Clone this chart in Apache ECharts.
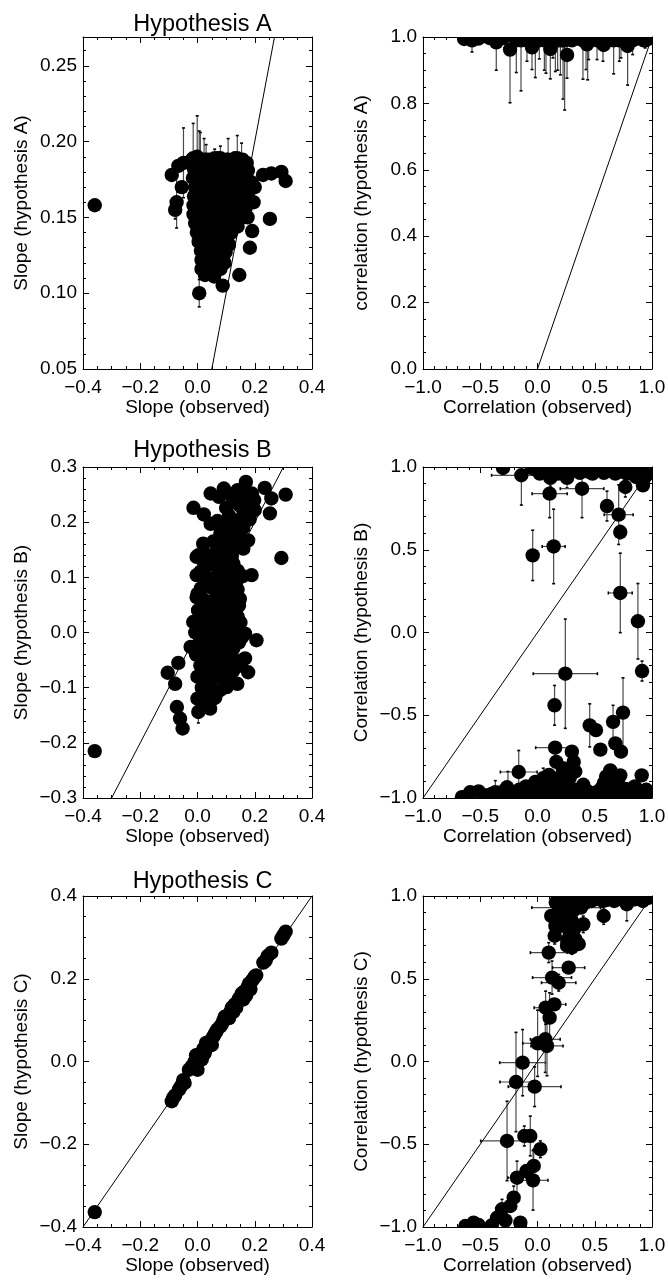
<!DOCTYPE html>
<html><head><meta charset="utf-8">
<script src="https://cdn.jsdelivr.net/npm/echarts@6/dist/echarts.min.js"></script>
<style>html,body{margin:0;padding:0;background:#fff}#c{width:668px;height:1280px}</style>
</head><body><div id="c"></div>
<script>
// ---------- DATA: each entry [x, y, xErr, yErr] ----------
const slopeA = [
[-0.359,0.158,0,0],[0.308,0.174,0,0],[0.293,0.180,0,0],[0.258,0.179,0,0],[0.229,0.178,0,0],[0.253,0.149,0,0],[0.191,0.141,0,0],[0.183,0.130,0,0],[0.146,0.112,0,0],[0.088,0.105,0,0],[0.006,0.100,0,0.009],
[-0.090,0.178,0,0],[-0.067,0.184,0,0],[-0.055,0.170,0,0],[-0.073,0.160,0,0.017],[-0.078,0.155,0,0.006],[0.200,0.170,0,0],[0.196,0.160,0,0],[0.175,0.150,0,0],
[-0.049,0.186,0,0.023],[-0.015,0.189,0,0.023],[-0.001,0.190,0,0.027],[0.006,0.188,0,0.019],[0.010,0.187,0,0.019],[0.023,0.188,0,0.014],[0.107,0.188,0,0.014],[0.139,0.189,0,0.015],[0.154,0.187,0,0.012],[0.030,0.188,0,0.010],[0.060,0.189,0,0.006],[0.080,0.189,0,0.008],
[-0.020,0.188,0,0],[0.040,0.188,0,0],[0.071,0.189,0,0],[0.101,0.188,0,0],[0.131,0.189,0,0],[0.158,0.188,0,0],[0.172,0.186,0,0],
[-0.012,0.182,0,0],[0.020,0.183,0,0],[0.054,0.182,0,0],[0.086,0.183,0,0],[0.118,0.182,0,0],[0.150,0.183,0,0],[0.176,0.181,0,0],
[-0.016,0.176,0,0],[0.014,0.177,0,0],[0.046,0.175,0,0],[0.079,0.176,0,0],[0.111,0.177,0,0],[0.143,0.175,0,0],[0.172,0.176,0,0],[0.190,0.173,0,0],
[-0.008,0.170,0,0],[0.025,0.169,0,0],[0.058,0.170,0,0],[0.092,0.171,0,0],[0.124,0.169,0,0],[0.156,0.170,0,0],[0.182,0.168,0,0],
[-0.012,0.164,0,0],[0.019,0.165,0,0],[0.052,0.163,0,0],[0.085,0.164,0,0],[0.117,0.165,0,0],[0.149,0.163,0,0],[0.176,0.162,0,0],
[-0.014,0.158,0,0],[0.017,0.157,0,0],[0.049,0.158,0,0],[0.082,0.157,0,0],[0.114,0.158,0,0],[0.145,0.157,0,0],[0.168,0.156,0,0],
[-0.014,0.152,0,0],[0.016,0.151,0,0],[0.047,0.152,0,0],[0.079,0.151,0,0],[0.111,0.152,0,0],[0.140,0.151,0,0],[0.153,0.150,0,0],
[-0.008,0.146,0,0],[0.022,0.145,0,0],[0.054,0.146,0,0],[0.086,0.145,0,0],[0.116,0.146,0,0],[0.140,0.144,0,0],
[-0.002,0.140,0,0],[0.028,0.139,0,0],[0.060,0.140,0,0],[0.091,0.139,0,0],[0.118,0.140,0,0],
[0.004,0.134,0,0],[0.034,0.133,0,0],[0.065,0.134,0,0],[0.095,0.133,0,0],[0.110,0.132,0,0],
[0.012,0.128,0,0],[0.041,0.127,0,0],[0.071,0.128,0,0],[0.098,0.127,0,0],
[0.014,0.122,0,0],[0.044,0.121,0,0],[0.073,0.122,0,0],[0.094,0.120,0,0],
[0.014,0.116,0,0],[0.046,0.115,0,0],[0.080,0.116,0,0],
[0.026,0.112,0,0],[0.058,0.111,0,0]
];
const corrA = [
[-0.640,0.994,0,0],[-0.572,0.990,0,0.035],[-0.517,0.995,0,0],
[-0.420,0.997,0,0],[-0.360,0.984,0,0.084],[-0.300,0.997,0,0],[-0.240,0.962,0,0.160],[-0.185,0.990,0,0.097],[-0.144,0.990,0,0.152],[-0.100,0.997,0,0],[-0.092,0.990,0,0.063],[-0.048,0.969,0,0.067],[-0.019,0.990,0,0.112],[0.016,0.990,0,0.056],[0.040,0.997,0,0],[0.060,0.990,0,0.090],[0.074,0.990,0,0.099],[0.112,0.964,0,0.090],[0.135,0.990,0,0.053],[0.156,0.990,0,0.094],[0.176,0.990,0,0.090],[0.200,0.990,0,0.104],[0.223,0.990,0,0.177],[0.237,0.990,0,0.210],[0.258,0.946,0,0.070],[0.300,0.990,0,0],[0.310,0.997,0,0],[0.360,0.995,0,0],[0.397,0.990,0,0.117],[0.424,0.990,0,0.088],[0.432,0.978,0,0],[0.438,0.990,0,0.119],[0.447,0.990,0,0.058],[0.480,0.997,0,0],[0.520,0.990,0,0.058],[0.572,0.990,0,0.063],[0.578,0.976,0,0],[0.630,0.997,0,0],[0.665,0.990,0,0.101],[0.690,0.996,0,0],[0.715,0.990,0,0.063],[0.729,0.990,0,0.053],[0.760,0.997,0,0],[0.787,0.973,0,0.118],[0.831,0.990,0,0.043],[0.870,0.996,0,0],[0.927,0.990,0,0],[0.940,0.990,0,0.023],[0.975,0.996,0,0],[1.000,0.998,0,0]
];
const slopeB = [
[-0.359,-0.215,0,0],[0.293,0.135,0,0],[0.206,-0.014,0,0],[0.166,-0.002,0,0],[0.166,-0.047,0,0],[0.177,-0.072,0,0],[0.139,-0.093,0,0],
[-0.052,-0.174,0,0],[-0.061,-0.156,0,0],[-0.072,-0.135,0,0],[-0.078,-0.093,0.012,0],[-0.104,-0.073,0,0],[-0.067,-0.055,0,0],
[0.003,-0.144,0,0.02],[0.044,-0.138,0,0],[0.055,-0.120,0,0],[0.102,-0.099,0,0],[0.131,-0.050,0,0],[0.113,-0.062,0,0],
[0.125,0.125,0,0],[0.189,0.104,0,0],[0.148,0.061,0,0],[-0.003,0.104,0,0],[0.003,0.140,0,0],[-0.003,0.064,0,0],[-0.015,0.019,0,0],[-0.024,-0.026,0,0],
[-0.014,0.226,0,0],[0.046,0.252,0,0],[0.092,0.261,0,0],[0.169,0.273,0,0],[0.235,0.262,0,0],[0.308,0.250,0,0],[0.258,0.243,0,0],[0.253,0.216,0,0],[0.177,0.234,0,0],[0.113,0.194,0,0],[0.046,0.197,0,0],[0.177,0.167,0,0],[0.160,0.152,0,0],[0.020,0.161,0,0],[0.055,0.165,0,0],[-0.003,0.137,0,0],[0.148,0.230,0,0],[0.125,0.236,0,0],[0.198,0.240,0,0],[0.150,0.205,0,0],[0.182,0.205,0,0],[0.022,0.214,0,0],[0.100,0.226,0,0],[0.075,0.246,0,0],[0.140,0.258,0,0],
[0.030,0.120,0,0],[0.070,0.118,0,0],[0.100,0.121,0,0],
[0.020,0.100,0,0],[0.052,0.098,0,0],[0.088,0.101,0,0],[0.120,0.099,0,0],[0.158,0.102,0,0],
[0.012,0.080,0,0],[0.046,0.082,0,0],[0.080,0.079,0,0],[0.112,0.081,0,0],[0.140,0.078,0,0],
[0.020,0.060,0,0],[0.055,0.058,0,0],[0.090,0.061,0,0],[0.122,0.059,0,0],
[0.002,0.040,0,0],[0.035,0.041,0,0],[0.070,0.039,0,0],[0.105,0.042,0,0],[0.132,0.038,0,0],
[0.015,0.020,0,0],[0.050,0.021,0,0],[0.085,0.019,0,0],[0.120,0.022,0,0],[0.150,0.018,0,0],
[-0.008,0.000,0,0],[0.025,0.001,0,0],[0.060,-0.001,0,0],[0.095,0.002,0,0],[0.130,-0.002,0,0],
[0.005,-0.020,0,0],[0.040,-0.021,0,0],[0.075,-0.019,0,0],[0.110,-0.022,0,0],[0.145,-0.018,0,0],
[-0.005,-0.040,0,0],[0.030,-0.041,0,0],[0.065,-0.039,0,0],[0.100,-0.042,0,0],
[0.010,-0.060,0,0],[0.045,-0.061,0,0],[0.080,-0.059,0,0],[0.115,-0.075,0,0],
[0.000,-0.080,0,0],[0.035,-0.081,0,0],[0.070,-0.079,0,0],[0.095,-0.082,0,0],
[0.015,-0.100,0,0],[0.050,-0.101,0,0],[0.080,-0.104,0,0],
[0.000,-0.120,0,0],[0.030,-0.121,0,0],[0.062,-0.118,0,0],
[0.040,0.140,0,0],[0.080,0.141,0,0],[0.120,0.139,0,0],
[0.090,0.160,0,0],[0.130,0.158,0,0],
[0.080,0.180,0,0],[0.120,0.181,0,0],[0.140,0.178,0,0],
[0.070,0.202,0,0],[0.090,0.199,0,0],[0.130,0.203,0,0],
[0.010,0.110,0,0],[0.085,0.111,0,0],[0.140,0.112,0,0],
[0.030,0.090,0,0],[0.065,0.089,0,0],[0.135,0.091,0,0],
[0.000,0.070,0,0],[0.070,0.071,0,0],[0.105,0.069,0,0],
[0.015,0.050,0,0],[0.085,0.051,0,0],[0.145,0.049,0,0],
[0.030,0.030,0,0],[0.100,0.031,0,0],[0.140,0.029,0,0],
[0.005,0.010,0,0],[0.075,0.011,0,0],[0.110,0.009,0,0],
[0.045,-0.010,0,0],[0.115,-0.011,0,0],[0.155,-0.009,0,0],
[0.015,-0.030,0,0],[0.085,-0.031,0,0],[0.125,-0.029,0,0],
[0.030,-0.050,0,0],[0.095,-0.051,0,0],[0.150,-0.060,0,0],
[0.020,-0.070,0,0],[0.055,-0.071,0,0],[0.125,-0.069,0,0],
[0.045,-0.090,0,0],[0.110,-0.088,0,0],
[0.035,-0.110,0,0],[0.065,-0.109,0,0],
[0.020,-0.132,0,0],
[0.020,0.130,0,0],[0.060,0.131,0,0],[0.100,0.129,0,0],
[0.070,0.151,0,0],[0.110,0.149,0,0],
[0.100,0.171,0,0],[0.150,0.170,0,0],
[0.100,0.190,0,0],[0.160,0.190,0,0],
[0.110,0.212,0,0],[0.160,0.222,0,0],[0.200,0.222,0,0],
[0.160,0.250,0,0],[0.190,0.252,0,0],[0.115,0.250,0,0]
];
const corrB = [
[-0.301,0.994,0,0],[-0.141,0.950,0.26,0.18],[0.112,0.934,0,0.05],[0.106,0.839,0.153,0.145],[0.141,0.520,0.10,0.225],[-0.042,0.466,0,0.152],
[0.258,0.934,0,0.06],[0.389,0.869,0.19,0.175],[0.607,0.764,0,0.09],[0.709,0.712,0.126,0.18],[0.723,0.607,0,0.04],[0.767,0.879,0,0.06],[0.921,0.889,0,0],
[-0.020,0.985,0,0],[0.030,0.997,0,0],[0.080,0.990,0,0],[0.160,0.985,0,0],[0.200,0.970,0,0],[0.230,0.995,0,0],[0.300,0.975,0,0],[0.340,0.990,0,0],[0.400,0.995,0,0],[0.450,0.970,0,0],[0.500,0.992,0,0],[0.550,0.980,0,0],[0.600,0.995,0,0],[0.650,0.975,0,0],[0.700,0.990,0,0],[0.750,0.970,0,0],[0.800,0.995,0,0],[0.850,0.975,0,0],[0.900,0.990,0,0],[0.950,0.970,0,0],[0.990,0.995,0,0],[0.930,0.930,0,0],[0.860,0.940,0,0],
[-0.050,0.995,0,0],[0.020,0.960,0,0],[0.060,0.975,0,0],[0.120,0.995,0,0],[0.180,0.960,0,0],[0.260,0.985,0,0],[0.320,0.995,0,0],[0.370,0.965,0,0],[0.430,0.990,0,0],[0.480,0.960,0,0],[0.530,0.995,0,0],[0.580,0.965,0,0],[0.630,0.990,0,0],[0.680,0.960,0,0],[0.730,0.995,0,0],[0.780,0.960,0,0],[0.830,0.990,0,0],[0.880,0.960,0,0],[0.970,0.960,0,0],[1.000,0.990,0,0],
[0.723,0.239,0.104,0.24],[0.877,0.068,0,0.228],[0.913,-0.233,0,0.06],[0.243,-0.249,0.28,0.33],[0.149,-0.440,0,0.12],[0.154,-0.696,0.17,0],[-0.164,-0.843,0.16,0.13],[-0.019,-0.903,0,0],
[0.316,-0.782,0,0.08],[0.330,-0.840,0,0],[0.164,-0.782,0,0],[0.456,-0.561,0,0.13],[0.511,-0.590,0,0],[0.549,-0.708,0,0],[0.660,-0.540,0,0.10],[0.680,-0.670,0,0],[0.729,-0.720,0,0],[0.747,-0.484,0.05,0.21],[0.636,-0.833,0,0],[0.723,-0.863,0,0],[0.910,-0.863,0,0.03],
[-0.660,-0.995,0,0],[-0.587,-0.965,0,0],[-0.514,-0.960,0,0],[-0.368,-0.965,0,0.07],[-0.266,-0.935,0,0],[-0.258,-0.960,0,0.12],[-0.200,-0.980,0,0],[-0.120,-0.970,0,0],[-0.050,-0.950,0,0],[0.020,-0.970,0,0],[0.050,-0.950,0,0.13],[0.080,-0.940,0,0],[0.140,-0.960,0,0],[0.200,-0.930,0,0],[0.260,-0.970,0,0],[0.320,-0.950,0,0],[0.380,-0.980,0,0],[0.440,-0.960,0,0],[0.500,-0.970,0,0],[0.560,-0.940,0,0],[0.620,-0.975,0,0],[0.680,-0.950,0,0],[0.740,-0.970,0,0],[0.800,-0.960,0,0],[0.860,-0.980,0,0],[0.920,-0.965,0,0],[0.970,-0.990,0,0],[0.180,-0.880,0,0],[0.050,-0.880,0,0],
[-0.620,-0.990,0,0],[-0.450,-0.985,0,0],[-0.400,-0.975,0,0],[-0.330,-0.990,0,0],[-0.300,-0.960,0,0],[-0.230,-0.970,0,0],[-0.160,-0.950,0,0],[-0.080,-0.985,0,0],[-0.020,-0.960,0,0],[0.050,-0.990,0,0],[0.110,-0.965,0,0],[0.170,-0.985,0,0],[0.230,-0.960,0,0],[0.290,-0.990,0,0],[0.350,-0.965,0,0],[0.410,-0.950,0,0],[0.470,-0.985,0,0],[0.530,-0.960,0,0],[0.590,-0.990,0,0],[0.650,-0.960,0,0],[0.710,-0.985,0,0],[0.770,-0.945,0,0],[0.830,-0.965,0,0],[0.890,-0.990,0,0],[0.950,-0.950,0,0],
[0.000,-0.920,0,0],[0.120,-0.910,0,0],[0.250,-0.900,0,0],[0.400,-0.920,0,0],[0.580,-0.910,0,0],[0.700,-0.900,0,0],[0.280,-0.880,0,0],[0.100,-0.860,0,0],[-0.100,-0.930,0,0],[0.600,-0.870,0,0],[0.850,-0.930,0,0],[0.220,-0.820,0,0],[0.300,-0.720,0,0]
];
const slopeC = [
[-0.359,-0.364,0,0],[-0.090,-0.096,0,0],[-0.078,-0.082,0,0],[-0.065,-0.068,0,0],[-0.058,-0.060,0.02,0],[-0.045,-0.052,0,0],[-0.030,-0.020,0,0],[-0.020,-0.012,0,0],[-0.010,0.000,0,0],[0.000,0.010,0,0],[0.010,0.018,0,0],[0.020,0.030,0,0],[0.030,0.045,0,0],[0.035,0.035,0,0],[0.045,0.050,0,0],[0.055,0.060,0,0],[0.060,0.066,0,0],[0.070,0.078,0,0],[0.080,0.085,0,0],[0.090,0.098,0,0],[0.095,0.108,0,0],[0.105,0.110,0,0],[0.115,0.120,0,0],[0.120,0.130,0,0],[0.130,0.138,0,0],[0.140,0.145,0,0],[0.150,0.155,0,0],[0.155,0.165,0,0],[0.165,0.170,0,0],[0.175,0.180,0,0],[0.180,0.188,0,0],[0.190,0.195,0,0],[0.200,0.205,0,0],[0.205,0.208,0,0],[0.230,0.239,0,0],[0.245,0.255,0,0],[0.258,0.263,0,0],[0.293,0.297,0,0],[0.308,0.314,0,0],[0.300,0.305,0,0],[0.000,-0.020,0,0],[-0.005,0.015,0,0],[0.015,0.005,0,0],[0.050,0.040,0,0],[0.085,0.090,0,0],[0.110,0.105,0,0],[0.135,0.130,0,0],[0.160,0.150,0,0],[0.170,0.160,0,0],[0.185,0.175,0,0],
[-0.085,-0.088,0,0],[-0.050,-0.045,0,0],[0.025,0.020,0,0],[0.065,0.072,0,0],[0.125,0.120,0,0],[0.145,0.152,0,0],[0.195,0.200,0,0],[0.238,0.244,0,0]
];
const corrC = [
[-0.630,-0.994,0,0],[-0.558,-0.974,0,0],[-0.514,-0.988,0,0],[-0.400,-0.990,0,0],[-0.354,-0.944,0.05,0.05],[-0.310,-0.893,0.05,0.06],[-0.280,-0.960,0,0],[-0.237,-0.873,0,0],[-0.208,-0.823,0,0.07],[-0.150,-0.974,0,0],
[-0.266,-0.480,0.23,0.24],[-0.115,-0.450,0,0.06],[-0.063,-0.450,0,0.12],[0.025,-0.530,0.05,0.05],[-0.033,-0.631,0,0.10],[-0.097,-0.662,0,0],[-0.179,-0.702,0.08,0.10],[-0.039,-0.718,0.13,0.18],
[-0.130,-0.007,0.20,0.20],[-0.188,-0.124,0.14,0.30],[-0.025,-0.152,0.23,0.12],[0.001,0.110,0.13,0.20],[0.068,0.134,0.13,0.20],[0.083,0.094,0.14,0.18],[0.106,0.265,0,0.15],[0.071,0.325,0.10,0.10],[0.147,0.345,0.10,0],[0.127,0.507,0.17,0.10],[0.185,0.476,0.15,0.05],[0.272,0.567,0.14,0],[0.098,0.658,0.16,0.06],[0.301,0.718,0,0.07],[0.258,0.700,0,0],[0.156,0.819,0,0.07],[0.229,0.879,0,0],[0.300,0.850,0,0],[0.400,0.829,0,0.05],[0.578,0.879,0,0.05],[0.780,0.950,0,0.10],[0.120,0.880,0,0],[0.150,0.760,0,0.05],[0.250,0.930,0.30,0],
[0.180,0.990,0,0],[0.220,0.970,0,0],[0.260,0.995,0,0],[0.300,0.975,0,0],[0.350,0.990,0,0],[0.400,0.970,0,0],[0.450,0.995,0,0],[0.500,0.980,0,0],[0.550,0.995,0,0],[0.600,0.975,0,0],[0.650,0.990,0,0],[0.700,0.980,0,0],[0.750,0.995,0,0],[0.820,0.985,0,0],[0.880,0.995,0,0],[0.940,0.990,0,0],[0.990,0.998,0,0],[0.200,0.930,0,0],
[0.160,0.960,0,0],[0.190,0.920,0,0],[0.230,0.900,0,0],[0.270,0.940,0,0],[0.310,0.910,0,0],[0.340,0.950,0,0],[0.380,0.930,0,0],[0.420,0.960,0,0],[0.470,0.970,0,0],[0.520,0.990,0,0],[0.570,0.970,0,0],[0.620,0.990,0,0],[0.670,0.970,0,0],[0.720,0.990,0,0],[0.770,0.970,0,0],[0.850,0.980,0,0],[0.920,0.970,0,0],[0.970,0.990,0,0],
[0.250,0.860,0,0],[0.320,0.800,0,0],[0.220,0.820,0,0],[0.280,0.760,0,0],[0.300,0.690,0,0],[0.260,0.730,0,0],[0.330,0.740,0,0],[0.360,0.710,0,0],[0.280,0.700,0,0]
];

const titles = ['Hypothesis A', 'Hypothesis B', 'Hypothesis C'];
const slopeXName = 'Slope (observed)';
const corrXName = 'Correlation (observed)';
const yNames = ['Slope (hypothesis A)', 'correlation (hypothesis A)', 'Slope (hypothesis B)', 'Correlation (hypothesis B)', 'Slope (hypothesis C)', 'Correlation (hypothesis C)'];
// axis ranges: [min, max, major step, minor step, decimals]
const slopeX = [-0.4, 0.4, 0.2, 0.05, 1];
const corrX = [-1, 1, 0.5, 0.1, 1];
const yRanges = [
  [0.05, 0.269, 0.05, 0.01, 2],
  [0, 1, 0.2, 0.05, 1],
  [-0.3, 0.3, 0.1, 0.02, 1],
  [-1, 1, 0.5, 0.1, 1],
  [-0.4, 0.4, 0.2, 0.05, 1],
  [-1, 1, 0.5, 0.1, 1]
];

// ---------- LAYOUT ----------
const FONT = 'Liberation Sans, Arial, Helvetica, sans-serif';
const colLeft = [83, 423];
const rowTop = [37, 467, 896];
const rowH = [332, 331, 331];
const W = 229;
const panelData = [slopeA, corrA, slopeB, corrB, slopeC, corrC];

function fmt(dec) {
  return function (v) {
    let s = (Math.abs(v) < 1e-9 ? 0 : v).toFixed(dec);
    return s.replace('-', '\u2212');
  };
}

const grids = [], xAxes = [], yAxes = [], series = [], titleOpts = [];
for (let p = 0; p < 6; p++) {
  const r = Math.floor(p / 2), c = p % 2;
  grids.push({ left: colLeft[c], top: rowTop[r], width: W, height: rowH[r], outerBoundsMode: 'none', containLabel: false });
  const xr = c === 0 ? slopeX : corrX;
  const yr = yRanges[p];
  const xName = c === 0 ? slopeXName : corrXName;
  const base = { gridIndex: p, type: 'value', splitLine: { show: false }, minorTick: { show: false }, minorSplitLine: { show: false }, offset: 0 };
  const textStyle = { fontSize: 19, color: '#000', fontFamily: FONT };
  ['bottom', 'top'].forEach(function (pos, k) {
    xAxes.push(Object.assign({}, base, {
      position: pos, min: xr[0], max: xr[1], interval: xr[2],
      axisLine: { show: true, onZero: false, lineStyle: { color: '#000', width: 1 } },
      axisTick: { show: true, inside: true, length: 6, lineStyle: { color: '#000', width: 1 } },
      axisLabel: k === 0 ? Object.assign({ show: true, margin: 9, formatter: fmt(xr[4]), showMinLabel: true, showMaxLabel: true }, textStyle) : { show: false },
      name: k === 0 ? xName : '', nameLocation: 'middle', nameGap: 29, nameTextStyle: textStyle
    }));
    xAxes.push(Object.assign({}, base, {
      position: pos, min: xr[0], max: xr[1], interval: xr[3],
      axisLine: { show: false, onZero: false },
      axisTick: { show: true, inside: true, length: 3, lineStyle: { color: '#000', width: 1 } },
      axisLabel: { show: false }
    }));
  });
  ['left', 'right'].forEach(function (pos, k) {
    const maxIsTick = Math.abs(Math.round(yr[1] / yr[2]) * yr[2] - yr[1]) < 1e-9;
    yAxes.push(Object.assign({}, base, {
      position: pos, min: yr[0], max: yr[1], interval: yr[2],
      axisLine: { show: true, onZero: false, lineStyle: { color: '#000', width: 1 } },
      axisTick: { show: true, inside: true, length: 6, lineStyle: { color: '#000', width: 1 } },
      axisLabel: k === 0 ? Object.assign({ show: true, margin: 6, formatter: fmt(yr[4]), showMinLabel: true, showMaxLabel: maxIsTick }, textStyle) : { show: false },
      name: k === 0 ? yNames[p] : '', nameLocation: 'middle', nameGap: 52, nameTextStyle: textStyle
    }));
    yAxes.push(Object.assign({}, base, {
      position: pos, min: yr[0], max: yr[1], interval: yr[3],
      axisLine: { show: false, onZero: false },
      axisTick: { show: true, inside: true, length: 3, lineStyle: { color: '#000', width: 1 } },
      axisLabel: { show: false }
    }));
  });
  const xi = p * 4, yi = p * 4;
  const lo = Math.max(xr[0], yr[0]), hi = Math.min(xr[1], yr[1]);
  series.push({
    type: 'line', xAxisIndex: xi, yAxisIndex: yi, data: [[lo, lo], [hi, hi]],
    showSymbol: false, symbol: 'none', silent: true, animation: false,
    lineStyle: { color: '#000', width: 1 }, clip: true
  });
  series.push({
    type: 'custom', xAxisIndex: xi, yAxisIndex: yi, data: panelData[p], clip: true, silent: true, animation: false,
    encode: { x: 0, y: 1 },
    renderItem: function (params, api) {
      const x = api.value(0), y = api.value(1), xe = api.value(2), ye = api.value(3);
      const ch = [];
      const bar = { stroke: '#4a4a4a', lineWidth: 1.2 };
      const cap = { stroke: '#000', lineWidth: 1.6 };
      if (ye > 0) {
        const a = api.coord([x, y - ye]), b = api.coord([x, y + ye]);
        ch.push({ type: 'line', shape: { x1: a[0], y1: a[1], x2: b[0], y2: b[1] }, style: bar });
        ch.push({ type: 'line', shape: { x1: a[0] - 1.5, y1: a[1], x2: a[0] + 1.5, y2: a[1] }, style: cap });
        ch.push({ type: 'line', shape: { x1: b[0] - 1.5, y1: b[1], x2: b[0] + 1.5, y2: b[1] }, style: cap });
      }
      if (xe > 0) {
        const a = api.coord([x - xe, y]), b = api.coord([x + xe, y]);
        ch.push({ type: 'line', shape: { x1: a[0], y1: a[1], x2: b[0], y2: b[1] }, style: bar });
        ch.push({ type: 'line', shape: { x1: a[0], y1: a[1] - 1.5, x2: a[0], y2: a[1] + 1.5 }, style: cap });
        ch.push({ type: 'line', shape: { x1: b[0], y1: b[1] - 1.5, x2: b[0], y2: b[1] + 1.5 }, style: cap });
      }
      return { type: 'group', children: ch };
    }
  });
  series.push({
    type: 'custom', xAxisIndex: xi, yAxisIndex: yi, data: panelData[p], clip: true, silent: true, animation: false,
    encode: { x: 0, y: 1 },
    renderItem: function (params, api) {
      const pt = api.coord([api.value(0), api.value(1)]);
      return { type: 'circle', shape: { cx: pt[0], cy: pt[1], r: 7.2 }, style: { fill: '#000' } };
    }
  });
}
const titleTops = [8, 434, 865];
titles.forEach(function (t, i) {
  titleOpts.push({ text: t, left: colLeft[0] + W / 2, top: titleTops[i], textAlign: 'center',
    textStyle: { fontSize: 23.5, fontWeight: 'normal', color: '#000', fontFamily: FONT } });
});

const chart = echarts.init(document.getElementById('c'), null, { renderer: 'canvas' });
chart.setOption({
  animation: false,
  backgroundColor: '#fff',
  title: titleOpts,
  grid: grids,
  xAxis: xAxes,
  yAxis: yAxes,
  series: series
});
</script>
</body></html>
